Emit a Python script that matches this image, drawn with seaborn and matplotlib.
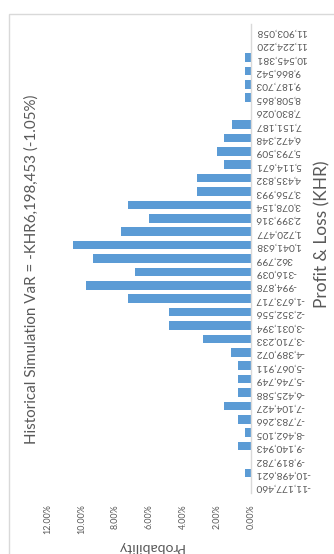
import matplotlib
matplotlib.use("Agg")
import matplotlib.pyplot as plt
import seaborn as sns
import pandas as pd
from matplotlib.patches import Rectangle
from matplotlib.ticker import FuncFormatter

# ---- data ----
pnl_labels = [
    "-11,177,460", "-10,498,621", "-9,819,782", "-9,140,943", "-8,462,105",
    "-7,783,266", "-7,104,427", "-6,425,588", "-5,746,749", "-5,067,911",
    "-4,389,072", "-3,710,233", "-3,031,394", "-2,352,556", "-1,673,717",
    "-994,878", "-316,039", "362,799", "1,041,638", "1,720,477",
    "2,399,316", "3,078,154", "3,756,993", "4,435,832", "5,114,671",
    "5,793,509", "6,472,348", "7,151,187", "7,830,026", "8,508,865",
    "9,187,703", "9,866,542", "10,545,381", "11,224,220", "11,903,058",
]
probability_pct = [
    0.00, 0.36, 0.00, 0.79, 0.36,
    0.79, 1.60, 0.79, 0.79, 0.79,
    1.18, 2.82, 4.82, 4.82, 7.28,
    9.75, 6.85, 9.31, 10.53, 7.68,
    6.02, 7.28, 3.17, 3.17, 1.60,
    1.99, 1.60, 1.14, 0.00, 0.36,
    0.36, 0.36, 0.36, 0.00, 0.00,
]
prob_ticks = [0, 2, 4, 6, 8, 10, 12]
title_text = "Historical Simulation VaR = -KHR6,198,453 (-1.05%)"
xlabel_text = "Profit & Loss (KHR)"
ylabel_text = "Probability"

df = pd.DataFrame({"pnl": pnl_labels, "prob": probability_pct})

sns.set_theme(style="white")
plt.rcParams["font.family"] = ["Lato", "DejaVu Sans"]

TXT = "#595959"
BAR = "#5B9BD5"
W, H = 334, 554
fig = plt.figure(figsize=(W / 100, H / 100), dpi=100)
fig.patch.set_facecolor("white")

# chart border (cropped on right & bottom)
fig.patches.append(Rectangle((8.5 / W, -0.1), 1.2, (H - 13.5) / H + 0.1,
                             transform=fig.transFigure, fill=False,
                             edgecolor="#D9D9D9", linewidth=1.0))

left, right = 47.7, 251.0
top, bottom = 24.0, 493.0
ax = fig.add_axes([left / W, (H - bottom) / H, (right - left) / W, (bottom - top) / H])

sns.barplot(data=df, x="prob", y="pnl", order=pnl_labels[::-1], orient="h",
            color=BAR, saturation=1, width=0.65, ax=ax)
for p in ax.patches:
    p.set_edgecolor("none")

ax.set_xlim(12, 0)
ax.set_xticks(prob_ticks)
ax.xaxis.set_major_formatter(FuncFormatter(lambda v, _: f"{v:.2f}%"))
ax.set_xlabel("")
ax.set_ylabel("")
ax.yaxis.tick_right()
ax.tick_params(axis="y", length=0, pad=3, labelrotation=180, labelsize=7.2, labelcolor=TXT)
ax.tick_params(axis="x", length=0, pad=8, labelrotation=90, labelsize=7.2, labelcolor=TXT)
for s in ["left", "top", "bottom"]:
    ax.spines[s].set_visible(False)
ax.spines["right"].set_visible(True)
ax.spines["right"].set_color("#D9D9D9")
ax.spines["right"].set_linewidth(1.0)
ax.set_facecolor("none")

t_title = fig.text(32 / W, (H - 269.5) / H, title_text, rotation=90, ha="center",
                   va="center", fontsize=10.5, color=TXT)
t_xl = fig.text(322 / W, (H - 234.5) / H, xlabel_text, rotation=90, ha="center",
                va="center", fontsize=10, color=TXT)
t_yl = fig.text(150.5 / W, (H - 547) / H, ylabel_text, rotation=180, ha="center",
                va="center", fontsize=10, color=TXT)

# fit text sizes to the reference's pixel lengths
fig.canvas.draw()
r = fig.canvas.get_renderer()
def fit(t, target, vertical):
    bb = t.get_window_extent(r)
    cur = bb.height if vertical else bb.width
    t.set_fontsize(t.get_fontsize() * target / cur)
fit(t_title, 351, True)
fit(t_xl, 147, True)
fit(t_yl, 67, False)

ylab = [t for t in ax.get_yticklabels() if t.get_text() == "11,903,058"][0]
ysz = ylab.get_fontsize() * 51 / ylab.get_window_extent(r).width
xlab = [t for t in ax.get_xticklabels() if t.get_text() == "12.00%"][0]
xsz = xlab.get_fontsize() * 30 / xlab.get_window_extent(r).height
ax.tick_params(axis="y", labelsize=ysz)
ax.tick_params(axis="x", labelsize=xsz)

fig.savefig("out.png", dpi=100, facecolor="white")
